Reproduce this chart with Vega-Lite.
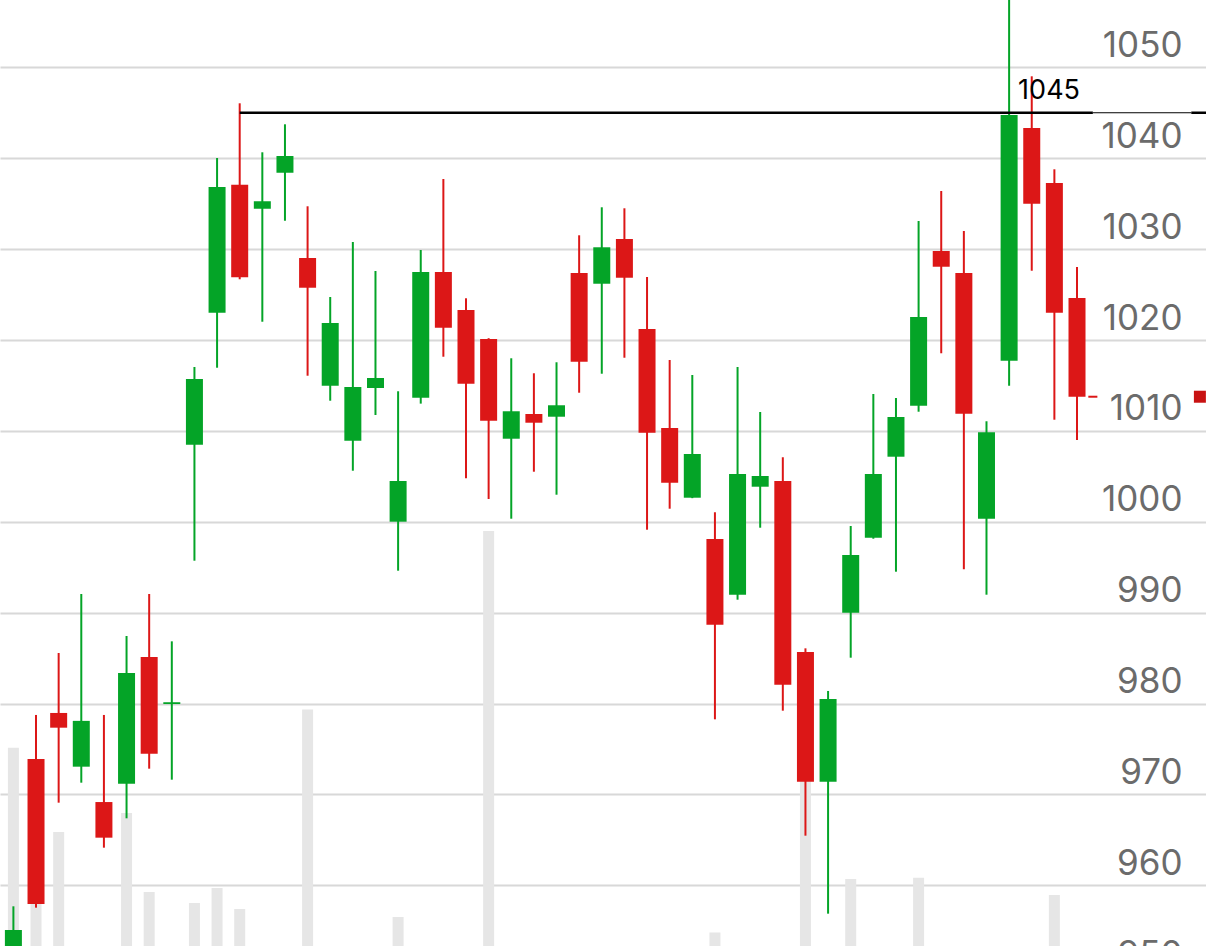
{
  "$schema": "https://vega.github.io/schema/vega-lite/v6.json",
  "width": 1206,
  "height": 946,
  "autosize": {"type": "none"},
  "padding": 0,
  "background": "#ffffff",
  "usermeta": {"embedOptions": {"actions": false}},
  "config": {"view": {"stroke": null}},
  "datasets": {
    "candles": [
      {"i": 0, "open": 951.0, "high": 957.7, "low": 948.0, "close": 955.1, "volume": 1426},
      {"i": 1, "open": 973.9, "high": 978.75, "low": 957.55, "close": 957.95, "volume": 793},
      {"i": 2, "open": 978.97, "high": 985.57, "low": 969.1, "close": 977.35, "volume": 1023},
      {"i": 3, "open": 973.06, "high": 992.06, "low": 971.3, "close": 978.1, "volume": 320},
      {"i": 4, "open": 969.17, "high": 978.75, "low": 964.15, "close": 965.25, "volume": 410},
      {"i": 5, "open": 971.19, "high": 987.44, "low": 967.38, "close": 983.37, "volume": 1114},
      {"i": 6, "open": 985.13, "high": 992.06, "low": 972.84, "close": 974.49, "volume": 736},
      {"i": 7, "open": 979.95, "high": 986.85, "low": 971.63, "close": 980.15, "volume": 280},
      {"i": 8, "open": 1008.48, "high": 1017.03, "low": 995.72, "close": 1015.71, "volume": 684},
      {"i": 9, "open": 1023.0, "high": 1040.02, "low": 1016.95, "close": 1036.83, "volume": 755},
      {"i": 10, "open": 1037.08, "high": 1046.04, "low": 1026.68, "close": 1026.9, "volume": 655},
      {"i": 11, "open": 1034.45, "high": 1040.65, "low": 1022.01, "close": 1035.26, "volume": 360},
      {"i": 12, "open": 1038.4, "high": 1043.73, "low": 1033.12, "close": 1040.24, "volume": 300},
      {"i": 13, "open": 1029.02, "high": 1034.71, "low": 1016.07, "close": 1025.75, "volume": 1608},
      {"i": 14, "open": 1014.97, "high": 1024.73, "low": 1013.32, "close": 1021.87, "volume": 390},
      {"i": 15, "open": 1008.92, "high": 1030.78, "low": 1005.62, "close": 1014.83, "volume": 440},
      {"i": 16, "open": 1014.72, "high": 1027.59, "low": 1011.75, "close": 1015.82, "volume": 260},
      {"i": 17, "open": 1000.01, "high": 1014.36, "low": 994.62, "close": 1004.49, "volume": 617},
      {"i": 18, "open": 1013.65, "high": 1029.9, "low": 1013.0, "close": 1027.48, "volume": 430},
      {"i": 19, "open": 1027.48, "high": 1037.71, "low": 1018.16, "close": 1021.35, "volume": 380},
      {"i": 20, "open": 1023.3, "high": 1024.59, "low": 1004.79, "close": 1015.19, "volume": 450},
      {"i": 21, "open": 1020.11, "high": 1020.2, "low": 1002.51, "close": 1011.12, "volume": 2462},
      {"i": 22, "open": 1009.14, "high": 1017.99, "low": 1000.34, "close": 1012.16, "volume": 340},
      {"i": 23, "open": 1011.86, "high": 1016.34, "low": 1005.51, "close": 1010.9, "volume": 270},
      {"i": 24, "open": 1011.56, "high": 1017.55, "low": 1002.98, "close": 1012.82, "volume": 310},
      {"i": 25, "open": 1027.37, "high": 1031.52, "low": 1014.2, "close": 1017.61, "volume": 400},
      {"i": 26, "open": 1026.19, "high": 1034.6, "low": 1016.29, "close": 1030.2, "volume": 350},
      {"i": 27, "open": 1031.11, "high": 1034.49, "low": 1018.05, "close": 1026.85, "volume": 420},
      {"i": 28, "open": 1021.21, "high": 1026.93, "low": 999.13, "close": 1009.8, "volume": 460},
      {"i": 29, "open": 1010.32, "high": 1017.8, "low": 1001.44, "close": 1004.3, "volume": 330},
      {"i": 30, "open": 1002.65, "high": 1016.15, "low": 1002.6, "close": 1007.46, "volume": 290},
      {"i": 31, "open": 998.11, "high": 1001.05, "low": 978.27, "close": 988.68, "volume": 542},
      {"i": 32, "open": 991.98, "high": 1017.03, "low": 991.43, "close": 1005.26, "volume": 440},
      {"i": 33, "open": 1003.86, "high": 1012.08, "low": 999.35, "close": 1005.04, "volume": 300},
      {"i": 34, "open": 1004.49, "high": 1007.1, "low": 979.22, "close": 982.08, "volume": 470},
      {"i": 35, "open": 985.68, "high": 986.08, "low": 965.47, "close": 971.41, "volume": 1319},
      {"i": 36, "open": 971.41, "high": 981.39, "low": 956.89, "close": 980.51, "volume": 460},
      {"i": 37, "open": 990.0, "high": 999.54, "low": 985.05, "close": 996.35, "volume": 798},
      {"i": 38, "open": 998.25, "high": 1014.06, "low": 998.14, "close": 1005.26, "volume": 380},
      {"i": 39, "open": 1007.16, "high": 1013.62, "low": 994.51, "close": 1011.53, "volume": 410},
      {"i": 40, "open": 1012.77, "high": 1033.09, "low": 1012.11, "close": 1022.53, "volume": 804},
      {"i": 41, "open": 1029.79, "high": 1036.39, "low": 1018.54, "close": 1028.06, "volume": 350},
      {"i": 42, "open": 1027.37, "high": 1031.99, "low": 994.77, "close": 1011.89, "volume": 400},
      {"i": 43, "open": 1000.34, "high": 1011.06, "low": 991.98, "close": 1009.85, "volume": 320},
      {"i": 44, "open": 1017.72, "high": 1059.0, "low": 1014.97, "close": 1044.75, "volume": 450},
      {"i": 45, "open": 1043.32, "high": 1049.01, "low": 1027.62, "close": 1035.0, "volume": 370},
      {"i": 46, "open": 1037.27, "high": 1038.78, "low": 1011.23, "close": 1023.0, "volume": 722},
      {"i": 47, "open": 1024.62, "high": 1028.03, "low": 1009.0, "close": 1013.76, "volume": 300}
    ],
    "levels": [
      {"level": 1045, "start": 10, "end": 47.7, "zone": "chart"},
      {"level": 1045, "start": 47.7, "end": 52.05, "zone": "axis"},
      {"level": 1045, "start": 52.05, "end": 53, "zone": "chart"}
    ],
    "levelLabels": [
      {"level": 1045, "at": 44, "text": "1045"}
    ],
    "lastPrice": [
      {"start": 47.5, "end": 47.9, "at": 52.43, "price": 1013.76}
    ]
  },
  "layer": [
    {
      "data": {"name": "candles"},
      "mark": {"type": "bar", "size": 11, "color": "#e6e6e6"},
      "encoding": {
        "x": {"field": "i", "type": "quantitative", "scale": {"domain": [-0.592, 52.7], "nice": false, "zero": false, "padding": 0}, "axis": null},
        "y": {"field": "volume", "type": "quantitative", "scale": {"domain": [0, 5000], "range": [1046, 0], "nice": false, "padding": 0}, "axis": null}
      }
    },
    {
      "layer": [
        {
          "data": {"name": "candles"},
          "mark": {"type": "rule", "strokeWidth": 2, "clip": true},
          "encoding": {
            "x": {"field": "i", "type": "quantitative", "scale": {"domain": [-0.592, 52.7], "nice": false, "zero": false, "padding": 0}, "axis": null},
            "y": {
              "field": "low", "type": "quantitative",
              "scale": {"domain": [950, 1060], "range": [976.3, -23.6], "nice": false, "zero": false, "padding": 0},
              "axis": {
                "orient": "right", "title": null,
                "values": [950, 960, 970, 980, 990, 1000, 1010, 1020, 1030, 1040, 1050],
                "format": "d", "domain": false, "ticks": false,
                "grid": true, "gridColor": "#d8d8d8", "gridWidth": 2,
                "labelFont": "Inter", "labelFontSize": 35, "labelColor": "#6b6b6b",
                "labelAlign": "right", "labelBaseline": "alphabetic",
                "labelPadding": -24, "labelOffset": -11,
                "labelFlush": false, "labelOverlap": false, "labelBound": false
              }
            },
            "y2": {"field": "high"},
            "color": {"condition": {"test": "datum.close >= datum.open", "value": "#04a427"}, "value": "#dc1717"}
          }
        },
        {
          "data": {"name": "candles"},
          "mark": {"type": "bar", "size": 17, "clip": true},
          "encoding": {
            "x": {"field": "i", "type": "quantitative"},
            "y": {"field": "open", "type": "quantitative", "scale": {"domain": [950, 1060], "range": [976.3, -23.6], "nice": false, "zero": false, "padding": 0}},
            "y2": {"field": "close"},
            "color": {"condition": {"test": "datum.close >= datum.open", "value": "#04a427"}, "value": "#dc1717"}
          }
        },
        {
          "data": {"name": "levels"},
          "transform": [{"filter": "datum.zone === 'chart'"}],
          "mark": {"type": "rule", "color": "#000000", "strokeWidth": 2.5, "clip": true},
          "encoding": {
            "x": {"field": "start", "type": "quantitative"},
            "x2": {"field": "end"},
            "y": {"field": "level", "type": "quantitative", "scale": {"domain": [950, 1060], "range": [976.3, -23.6], "nice": false, "zero": false, "padding": 0}}
          }
        },
        {
          "data": {"name": "levels"},
          "transform": [{"filter": "datum.zone === 'axis'"}],
          "mark": {"type": "rule", "color": "#000000", "strokeWidth": 1, "clip": true},
          "encoding": {
            "x": {"field": "start", "type": "quantitative"},
            "x2": {"field": "end"},
            "y": {"field": "level", "type": "quantitative", "scale": {"domain": [950, 1060], "range": [976.3, -23.6], "nice": false, "zero": false, "padding": 0}}
          }
        },
        {
          "data": {"name": "levelLabels"},
          "mark": {"type": "text", "font": "Inter", "fontSize": 27, "color": "#000000", "align": "left", "baseline": "alphabetic", "dx": 9, "dy": -14},
          "encoding": {
            "x": {"field": "at", "type": "quantitative"},
            "y": {"field": "level", "type": "quantitative", "scale": {"domain": [950, 1060], "range": [976.3, -23.6], "nice": false, "zero": false, "padding": 0}},
            "text": {"field": "text"}
          }
        },
        {
          "data": {"name": "lastPrice"},
          "mark": {"type": "rule", "strokeWidth": 2, "color": "#dc1717", "clip": true},
          "encoding": {
            "x": {"field": "start", "type": "quantitative"},
            "x2": {"field": "end"},
            "y": {"field": "price", "type": "quantitative", "scale": {"domain": [950, 1060], "range": [976.3, -23.6], "nice": false, "zero": false, "padding": 0}}
          }
        },
        {
          "data": {"name": "lastPrice"},
          "mark": {"type": "square", "size": 144, "filled": true, "opacity": 1, "color": "#c81212", "clip": true},
          "encoding": {
            "x": {"field": "at", "type": "quantitative"},
            "y": {"field": "price", "type": "quantitative", "scale": {"domain": [950, 1060], "range": [976.3, -23.6], "nice": false, "zero": false, "padding": 0}}
          }
        }
      ]
    }
  ],
  "resolve": {"scale": {"y": "independent"}, "axis": {"y": "independent"}}
}
